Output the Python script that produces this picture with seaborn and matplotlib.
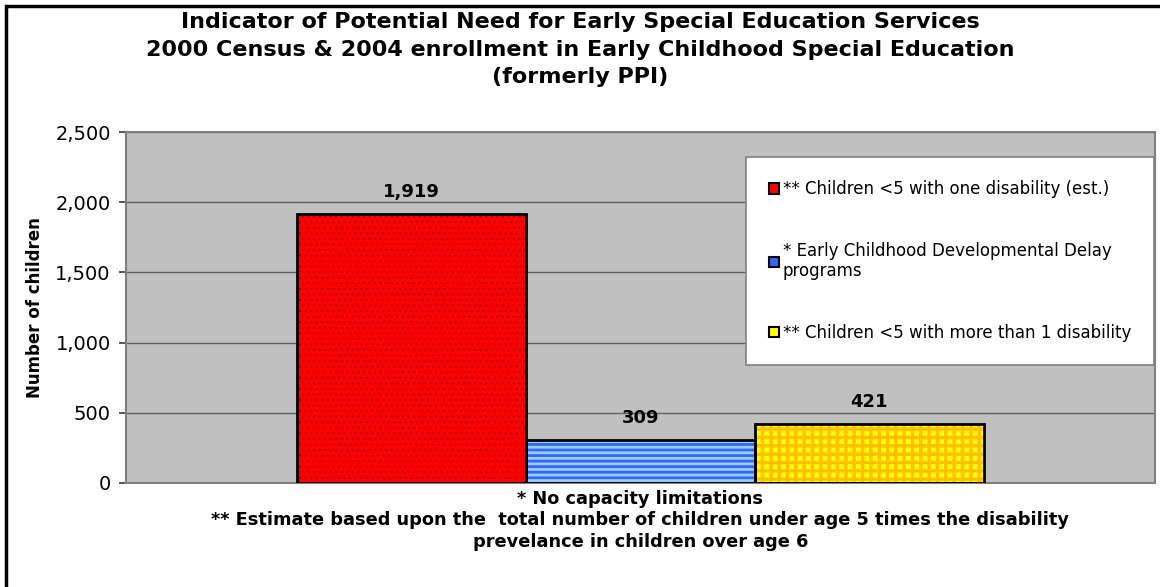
import matplotlib
matplotlib.use("Agg")
import matplotlib.pyplot as plt
import matplotlib.patches as mpatches
from matplotlib.ticker import FuncFormatter, MultipleLocator
import seaborn as sns
import pandas as pd

# Chart data
category = "* No capacity limitations\n** Estimate based upon the  total number of children under age 5 times the disability\nprevelance in children over age 6"
series = [
    "** Children <5 with one disability (est.)",
    "* Early Childhood Developmental Delay\nprograms",
    "** Children <5 with more than 1 disability",
]
values = [1919, 309, 421]
colors = ["#FF0000", "#3366FF", "#FFFF00"]
hatch_colors = ["#AA0000", "#99CCFF", "#FFC000"]
hatches = ["...", "---", "++"]
hatch_widths = [0.8, 2.0, 2.5]
title = (
    "Indicator of Potential Need for Early Special Education Services\n"
    "2000 Census & 2004 enrollment in Early Childhood Special Education\n"
    "(formerly PPI)"
)

df = pd.DataFrame({"category": [category] * 3, "series": series, "value": values})

sns.set_theme(style="white")
plt.rcParams["font.family"] = ["DejaVu Sans"]
plt.rcParams["text.color"] = "black"
plt.rcParams["axes.labelcolor"] = "black"
plt.rcParams["xtick.color"] = "black"
plt.rcParams["ytick.color"] = "black"
plt.rcParams["hatch.linewidth"] = 2.0

fig = plt.figure(figsize=(11.6, 5.87), dpi=100)
ax = fig.add_axes([0.1086, 0.1772, 0.8871, 0.5979])

sns.barplot(
    data=df, x="category", y="value", hue="series", hue_order=series,
    palette=colors, width=0.667, ax=ax, legend=False, saturation=1,
)

# hatch fill + black outline
for cont, hc, h, hw in zip(ax.containers, hatch_colors, hatches, hatch_widths):
    for p in cont.patches:
        p.set_hatch(h)
        p.set_edgecolor(hc)
        p.set_linewidth(0)
        if hasattr(p, "set_hatch_linewidth"):
            p.set_hatch_linewidth(hw)
        ax.add_patch(mpatches.Rectangle(p.get_xy(), p.get_width(), p.get_height(),
                                        fill=False, edgecolor="black", lw=2, zorder=3))
    ax.bar_label(cont, labels=[f"{v:,.0f}" for v in cont.datavalues],
                 padding=9, fontsize=13, fontweight="bold")

ax.set_facecolor("#C0C0C0")
ax.set_ylim(0, 2500)
ax.yaxis.set_major_locator(MultipleLocator(500))
ax.yaxis.set_major_formatter(FuncFormatter(lambda v, _: f"{v:,.0f}"))
ax.grid(axis="y", color="#606060", lw=1)
ax.set_axisbelow(True)
for s in ax.spines.values():
    s.set_color("#808080")
    s.set_linewidth(1.5)
ax.tick_params(axis="y", left=True, length=5, color="#404040", labelsize=14, pad=6)
ax.tick_params(axis="x", bottom=False, pad=-1)
for t in ax.get_xticklabels():
    t.set_fontweight("bold")
    t.set_fontsize(12.8)
    t.set_linespacing(1.25)
ax.set_xlabel("")
ax.set_ylabel("Number of children", fontsize=12, fontweight="bold", labelpad=8)

handles = [mpatches.Patch(facecolor=c, edgecolor="black", lw=1.5) for c in colors]
leg = ax.legend(handles, series, loc="upper left", bbox_to_anchor=(0.6025, 0.929),
                fontsize=12, frameon=True, fancybox=False, framealpha=1,
                edgecolor="#808080", labelspacing=2.6, handlelength=0.6,
                handleheight=0.6, handletextpad=0.2, borderpad=1.4, borderaxespad=0)
leg.get_frame().set_linewidth(1.2)

fig.text(0.5, 1 - 12 / 587, title, ha="center", va="top", fontsize=16, fontweight="bold",
         linespacing=1.47)

# outer chart border
fig.patches.append(mpatches.Rectangle((6 / 1160, -0.1), 1.2, 1 - 6 / 587 + 0.1,
                                      transform=fig.transFigure, fill=False,
                                      edgecolor="black", lw=2.5))

fig.savefig("out.png", dpi=100)
